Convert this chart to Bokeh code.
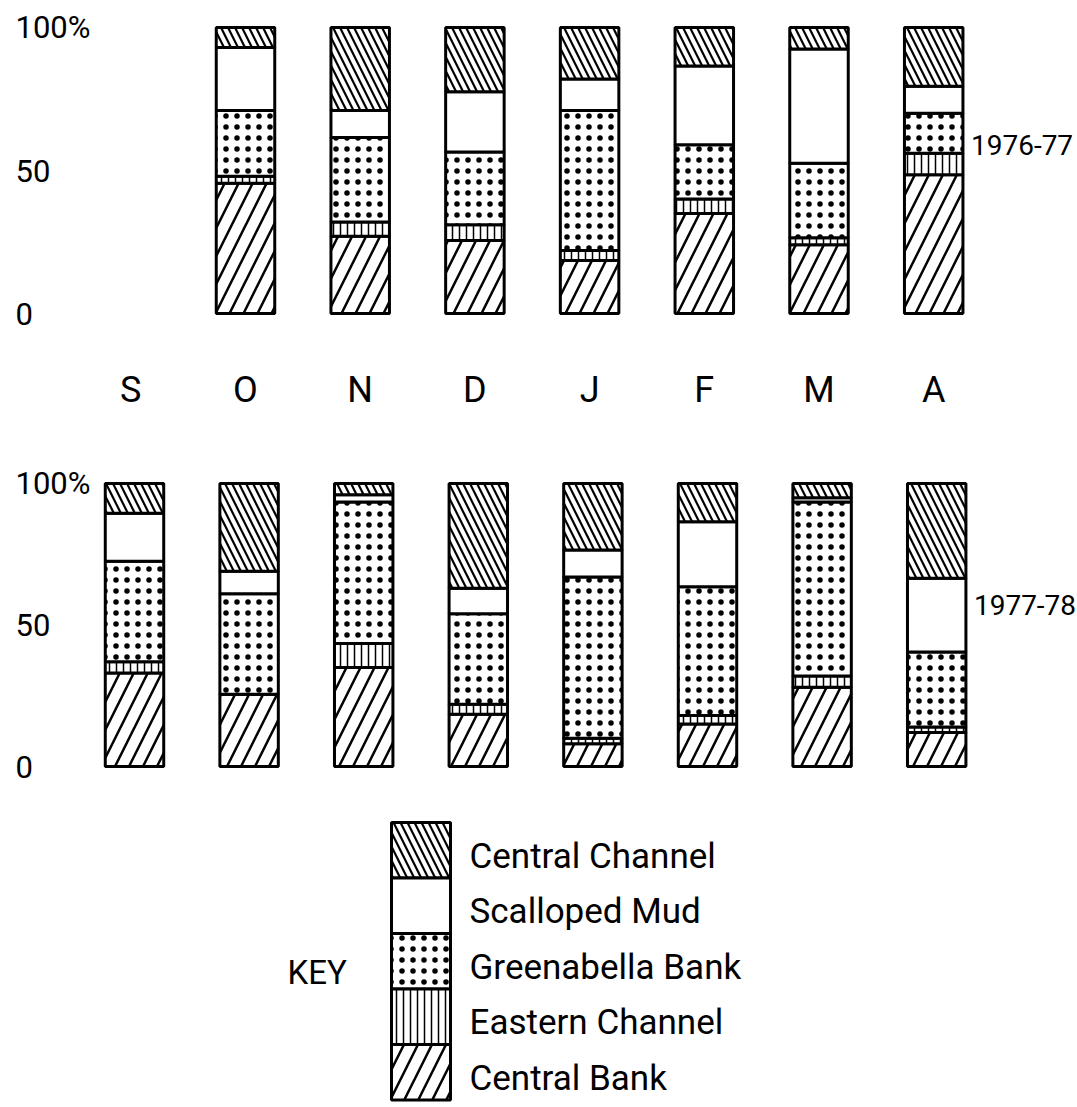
from bokeh.plotting import figure
from bokeh.layouts import column
from bokeh.models import ColumnDataSource, Range1d, Label
from bokeh.core.properties import value
from bokeh.embed import file_html
from bokeh.resources import INLINE

# ---------------- data ----------------
months = ["S", "O", "N", "D", "J", "F", "M", "A"]
layers = ["Central Bank", "Eastern Channel", "Greenabella Bank", "Scalloped Mud", "Central Channel"]

# 1976-77 (no September bar)
top_months = ["O", "N", "D", "J", "F", "M", "A"]
top_central_bank = [45.5, 27, 25.5, 18.5, 35, 24, 48.5]
top_eastern_channel = [2.5, 5, 5.5, 3.5, 5, 2.5, 7.5]
top_greenabella_bank = [23, 29.5, 25.5, 49, 19, 26, 14]
top_scalloped_mud = [22, 9.5, 21, 11, 27.5, 40, 9.5]
top_central_channel = [7, 29, 22.5, 18, 13.5, 7.5, 20.5]

# 1977-78
bot_months = ["S", "O", "N", "D", "J", "F", "M", "A"]
bot_central_bank = [33, 25.5, 35, 18.5, 8, 15, 28, 12]
bot_eastern_channel = [4, 0, 8.5, 3.5, 2, 3, 4, 2]
bot_greenabella_bank = [35.5, 35.5, 50, 32, 57, 45.5, 61.5, 26.5]
bot_scalloped_mud = [17, 8, 2.5, 9, 9.5, 23, 1.5, 26]
bot_central_channel = [10.5, 31, 4, 37, 23.5, 13.5, 5, 33.5]

y_ticks = [0, 50, 100]
y_tick_labels = ["0", "50", "100%"]

# ---------------- style ----------------
FONT = "Roboto"
W = 1077
H1, H2, H3 = 420, 380, 305
BAR_W = 0.51
hatch_pat = ["/", "|", ".", " ", "\\"]
hatch_scl = [28, 7, 11, 10, 14]
hatch_wt = [2.5, 1.5, 2.0, 1.0, 2.2]


def make_fig(h, xr, yr):
    p = figure(width=W, height=h, x_range=xr, y_range=yr,
               output_backend="svg", toolbar_location=None,
               x_axis_location=None, y_axis_location=None,
               min_border=0, outline_line_color=None)
    p.xgrid.visible = False
    p.ygrid.visible = False
    p.background_fill_color = "white"
    return p


def draw_panel(p, mlist, cols, xstart, pxu):
    src = ColumnDataSource(dict(x=[months.index(m) for m in mlist],
                                **{k: v for k, v in zip(layers, cols)}))
    p.vbar_stack(layers, x="x", width=BAR_W, source=src,
                 fill_color="white", line_color="black", line_width=3,
                 hatch_pattern=hatch_pat, hatch_scale=hatch_scl,
                 hatch_weight=hatch_wt, hatch_color="black")
    p.text(x=[xstart + 15 / pxu] * len(y_ticks), y=y_ticks, text=y_tick_labels,
           text_align="left", text_baseline="middle",
           text_font=value(FONT), text_font_size="31px", text_color="black")


# top panel (image px): bars 100% at y=27, 0 at y=313 ; month pitch 114.7 px
PX1 = 114.7
x1s = (0 - 130.3) / PX1
xr1 = Range1d(x1s, x1s + W / PX1)
yr1 = Range1d(0 - (H1 - 313) / 2.86, 100 + 27 / 2.86)
p1 = make_fig(H1, xr1, yr1)
draw_panel(p1, top_months,
           [top_central_bank, top_eastern_channel, top_greenabella_bank,
            top_scalloped_mud, top_central_channel], x1s, PX1)
p1.text(x=list(range(len(months))), y=[0] * len(months), text=months, y_offset=76,
        text_align="center", text_baseline="middle",
        text_font=value(FONT), text_font_size="36px", text_color="black")
p1.add_layout(Label(x=len(months) - 1 + BAR_W / 2, y=59, x_offset=8, text="1976-77",
                    text_baseline="middle", text_font=FONT, text_font_size="28px",
                    text_color="black"))

# bottom panel: bars 100% at y=483, 0 at y=766
PX2 = 114.6
x2s = (0 - 134.0) / PX2
xr2 = Range1d(x2s, x2s + W / PX2)
yr2 = Range1d(0 - (H1 + H2 - 766) / 2.83, 100 + (483 - H1) / 2.83)
p2 = make_fig(H2, xr2, yr2)
draw_panel(p2, bot_months,
           [bot_central_bank, bot_eastern_channel, bot_greenabella_bank,
            bot_scalloped_mud, bot_central_channel], x2s, PX2)
p2.add_layout(Label(x=len(months) - 1 + BAR_W / 2, y=57, x_offset=8, text="1977-78",
                    text_baseline="middle", text_font=FONT, text_font_size="28px",
                    text_color="black"))

# key (screen-pixel coordinates, y measured downward from the top of this strip)
p3 = make_fig(H3, Range1d(0, W), Range1d(H3, 0))
KEY_TOP, SW_H = 22, 55.5
order = list(reversed(range(len(layers))))  # Central Channel on top
key_src = ColumnDataSource(dict(
    left=[391] * len(layers), right=[450] * len(layers),
    top=[KEY_TOP + SW_H * k for k in range(len(layers))],
    bottom=[KEY_TOP + SW_H * (k + 1) for k in range(len(layers))],
    pat=[hatch_pat[i] for i in order], scl=[hatch_scl[i] for i in order],
    wt=[hatch_wt[i] for i in order], label=[layers[i] for i in order],
    ly=[KEY_TOP + SW_H * (k + 0.5) + 6 for k in range(len(layers))],
    lx=[469] * len(layers)))
p3.quad(left="left", right="right", top="top", bottom="bottom", source=key_src,
        fill_color="white", line_color="black", line_width=3,
        hatch_pattern="pat", hatch_scale="scl", hatch_weight="wt", hatch_color="black")
p3.text(x="lx", y="ly", text="label", source=key_src, text_align="left",
        text_baseline="middle", text_font=value(FONT), text_font_size="35px",
        text_color="black")
p3.text(x=[287], y=[172], text=["KEY"], text_align="left", text_baseline="middle",
        text_font=value(FONT), text_font_size="33px", text_color="black")

layout = column(p1, p2, p3, spacing=0)
open("out.html", "w").write(file_html(layout, INLINE))
